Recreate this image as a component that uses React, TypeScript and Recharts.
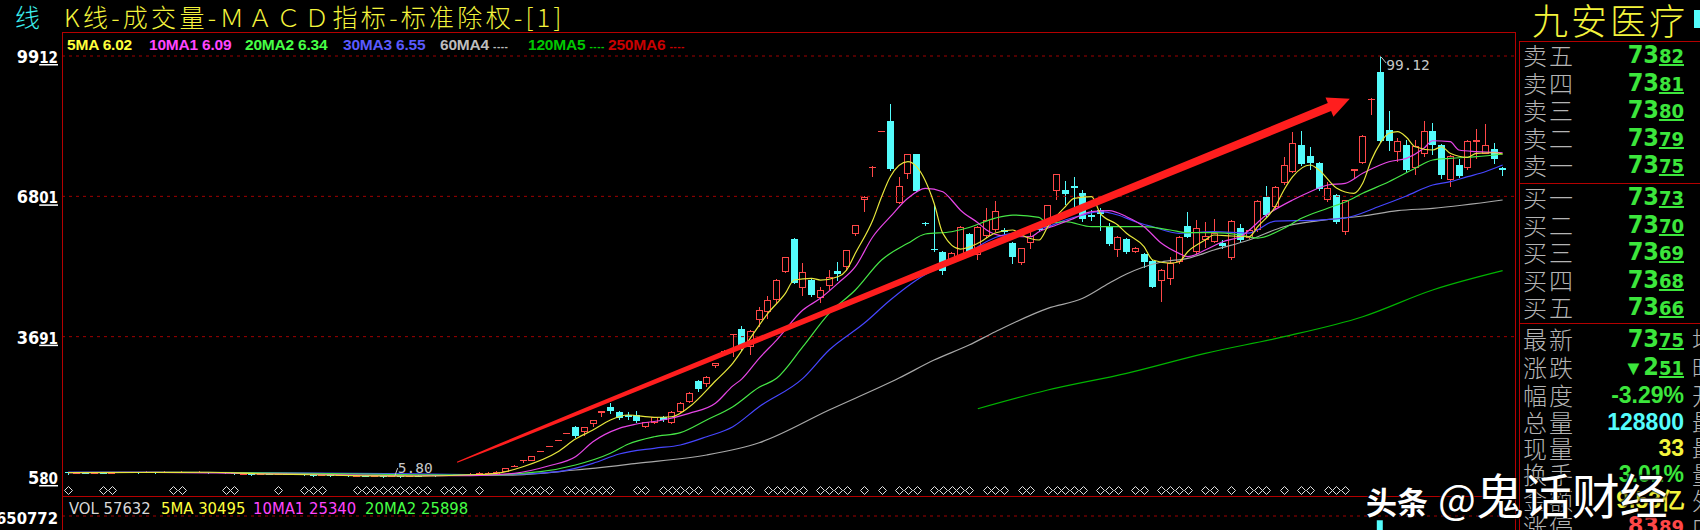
import React from 'react';
import { ComposedChart, Bar, Line, XAxis, YAxis, ReferenceLine, ReferenceDot } from 'recharts';

// ---------- price data (one entry per trading day shown) ----------
const opens = [
  6.80,6.62,6.70,6.66,6.72,6.70,6.78,6.80,6.85,6.80,
  6.86,6.84,6.88,6.85,6.90,6.86,6.92,6.76,6.84,6.66,
  6.45,6.55,6.35,6.50,6.45,6.55,6.42,6.50,6.30,6.15,
  6.25,6.10,6.18,6.05,6.10,5.98,6.05,5.95,6.00,5.96,
  6.08,6.02,6.15,6.10,6.22,6.30,6.42,
  6.55,6.70,6.30,6.97,8.20,9.45,9.40,11.40,12.60,13.90,
  15.50,16.95,15.84,17.50,19.90,21.40,20.20,19.50,19.50,16.95,
  17.80,19.20,17.80,20.10,22.50,27.00,26.40,30.40,33.70,37.40,
  38.50,34.70,40.60,42.40,45.00,51.20,58.60,47.60,49.50,45.40,
  48.10,51.50,52.40,59.60,67.30,74.20,82.40,84.80,66.50,73.00,
  77.40,62.20,56.40,55.70,53.90,54.80,59.70,55.00,59.20,60.50,
  60.60,57.60,53.30,57.60,61.10,61.30,69.30,69.40,70.30,68.80,
  63.80,65.00,61.30,56.10,58.50,55.70,55.20,53.70,49.30,49.80,
  53.50,61.40,55.70,58.30,58.00,57.70,54.30,60.90,58.80,60.50,
  67.80,65.70,70.90,73.50,79.40,77.00,75.50,67.20,68.30,60.00,
  73.70,75.30,89.50,95.60,82.70,77.90,79.40,74.20,77.50,82.60,
  79.40,71.60,75.00,74.20,80.00,77.50,78.60,74.40,
];
const highs = [
  6.90,6.80,6.78,6.80,6.82,6.85,6.88,6.95,6.92,7.10,
  6.95,7.12,6.98,7.10,6.98,7.05,7.00,6.90,6.92,6.75,
  6.60,6.62,6.55,6.58,6.62,6.60,6.55,6.55,6.40,6.30,
  6.30,6.22,6.24,6.15,6.16,6.10,6.10,6.05,6.10,6.12,
  6.15,6.20,6.22,6.28,6.35,6.48,6.60,
  6.80,6.90,7.10,7.90,8.40,9.60,10.50,11.55,12.70,14.00,
  15.65,17.10,16.90,18.50,20.45,22.10,20.35,20.20,20.40,18.10,
  19.10,19.30,20.40,22.40,24.70,27.30,28.10,31.10,33.90,37.60,
  39.30,38.30,43.50,45.90,49.60,54.60,58.70,53.30,49.60,48.00,
  51.70,53.50,56.20,61.70,68.00,74.70,82.60,88.40,72.20,77.50,
  77.50,62.40,66.10,55.80,55.70,61.40,59.90,61.40,65.40,67.00,
  61.00,57.80,56.60,60.55,61.60,66.20,73.00,71.50,72.20,69.40,
  65.00,65.40,62.00,59.20,58.70,56.80,55.40,53.90,52.00,54.60,
  59.20,64.60,62.80,62.40,62.90,58.40,62.80,61.90,60.80,67.20,
  70.20,70.30,76.70,82.30,82.60,78.90,75.70,71.30,68.50,67.30,
  74.10,81.60,89.80,99.12,87.00,80.90,80.50,80.50,84.80,84.20,
  79.60,77.20,76.40,80.50,82.90,84.00,79.80,74.60,
];
const lows = [
  6.55,6.50,6.60,6.60,6.62,6.65,6.70,6.72,6.75,6.76,
  6.78,6.80,6.80,6.78,6.80,6.82,6.72,6.70,6.60,6.40,
  6.38,6.30,6.30,6.40,6.40,6.40,6.35,6.25,6.10,6.10,
  6.05,6.02,6.00,5.95,5.92,5.90,5.88,5.80,5.90,5.92,
  5.98,6.00,6.05,6.08,6.15,6.25,6.38,
  6.45,6.60,6.25,6.90,8.10,9.00,9.30,11.35,12.55,13.85,
  15.45,14.70,14.90,16.95,19.10,19.90,18.70,18.60,18.10,16.60,
  17.60,18.30,17.60,19.90,22.30,24.90,25.80,29.90,33.60,32.40,
  33.90,32.80,39.00,40.80,44.10,51.00,48.80,45.90,45.90,44.40,
  47.30,49.50,51.70,59.20,64.60,72.40,82.40,73.90,66.30,71.80,
  69.20,61.70,55.90,50.80,53.50,54.30,55.50,53.90,58.80,60.00,
  59.70,53.20,52.80,56.30,60.30,61.00,67.30,66.30,65.70,62.60,
  62.80,60.50,57.20,54.60,55.50,55.50,52.40,47.90,44.70,48.40,
  53.00,58.90,55.30,56.50,57.60,56.50,53.90,58.00,58.50,60.20,
  63.70,65.30,70.50,73.20,75.00,74.00,69.40,66.80,62.20,59.50,
  71.80,75.10,86.00,80.10,78.30,75.70,73.70,72.70,76.80,77.40,
  72.00,70.00,72.30,73.80,76.40,77.30,75.30,72.70,
];
const closes = [
  6.62,6.70,6.66,6.72,6.70,6.78,6.80,6.85,6.80,6.86,
  6.84,6.88,6.85,6.90,6.86,6.92,6.76,6.84,6.66,6.45,
  6.55,6.35,6.50,6.45,6.55,6.42,6.50,6.30,6.15,6.25,
  6.10,6.18,6.05,6.10,5.98,6.05,5.95,6.00,5.96,6.08,
  6.02,6.15,6.10,6.22,6.30,6.42,6.55,
  6.70,6.75,6.97,7.72,8.30,9.57,10.45,11.50,12.66,14.00,
  15.60,14.88,16.80,18.40,20.40,20.50,18.87,19.00,18.30,18.05,
  19.00,18.40,20.30,22.30,24.50,25.20,28.00,31.00,33.80,37.60,
  34.70,38.20,42.80,45.00,49.50,54.50,48.90,51.30,46.10,47.20,
  50.10,50.80,56.10,61.60,67.90,74.60,82.55,74.00,70.30,77.40,
  69.30,61.90,56.10,51.50,55.50,61.30,55.70,61.30,62.70,64.80,
  60.20,54.50,56.50,59.20,60.50,66.10,72.90,68.50,69.80,62.90,
  63.40,64.10,57.40,59.10,55.70,56.50,53.50,48.00,51.70,53.30,
  59.10,59.10,60.90,59.20,59.80,57.00,62.60,58.30,60.50,67.00,
  63.90,70.10,75.00,79.90,75.20,75.50,69.60,69.80,62.40,67.20,
  74.00,81.40,89.70,80.30,80.30,80.30,73.80,79.20,82.60,79.40,
  72.70,77.00,72.50,80.30,80.50,79.40,76.26,73.75,
];

// ---------- moving-average lines as [bar, value] ----------
type Pt = [number, number];
const ma5Pts: Pt[] = [[0,6.75],[8,6.8],[16,6.85],[22,6.5],[28,6.3],[34,6.05],[40,6.0],[46,6.3],[49,6.62],[52,8.08],[56,11.4],[58,14.2],[60,16.21],[62,18.43],[64,19.54],[67,19.03],[69,19.16],[71,21.31],[74,27.07],[76,31.06],[78,36.6],[80,42.08],[82,46.52],[83,49.46],[85,49.84],[86,49.46],[88,50.2],[89,51.68],[90,55.38],[92,62.76],[93,67.93],[94,72.37],[96,75.69],[97,74.58],[99,66.47],[100,59.82],[102,56.33],[104,57.6],[106,59.88],[108,60.55],[109,59.44],[111,58.33],[112,61.28],[114,65.71],[115,67.57],[117,67.93],[118,64.25],[120,61.66],[121,59.82],[123,56.85],[124,53.9],[126,53.23],[127,53.52],[128,55.74],[130,58.33],[131,59.44],[133,59.22],[135,59.06],[136,61.28],[138,65.7],[139,69.41],[140,72.37],[142,74.96],[143,73.85],[145,69.86],[147,68.68],[148,70.9],[149,76.07],[150,79.77],[151,81.99],[152,82.34],[153,81.1],[154,79.01],[156,78.28],[157,79.01],[158,77.55],[160,76.66],[161,77.55],[163,77.68],[164,77.4]];
const ma10Pts: Pt[] = [[0,6.75],[10,6.82],[20,6.6],[30,6.35],[40,6.08],[46,6.1],[51,6.62],[55,8.3],[58,10.29],[60,13.62],[63,16.59],[65,17.54],[68,18.43],[71,19.91],[74,22.13],[76,26.0],[77,27.5],[79,32.1],[81,36.16],[84,42.81],[86,45.41],[88,48.73],[90,52.41],[92,59.06],[94,63.5],[96,67.57],[98,69.79],[100,69.04],[101,67.2],[102,64.98],[104,62.17],[105,60.55],[107,59.22],[110,59.06],[111,60.17],[113,61.66],[115,63.14],[117,64.61],[119,64.83],[121,63.5],[123,61.28],[125,57.6],[127,55.38],[128,54.63],[130,56.11],[132,57.96],[134,59.06],[137,63.87],[140,67.2],[142,69.04],[144,70.52],[146,70.9],[148,73.12],[150,74.96],[151,75.69],[153,76.44],[155,78.66],[156,80.34],[158,80.12],[159,78.28],[161,77.91],[164,77.68]];
const ma20Pts: Pt[] = [[0,6.8],[10,6.85],[20,6.75],[30,6.55],[40,6.3],[47,6.2],[54,6.97],[58,8.45],[62,11.05],[64,13.06],[67,14.73],[70,15.62],[73,18.43],[76,21.38],[79,25.68],[81,27.67],[84,34.68],[87,42.08],[90,47.25],[93,53.9],[96,57.6],[98,59.66],[101,60.17],[103,61.1],[106,63.2],[108,63.87],[111,63.36],[112,62.03],[114,62.39],[117,61.28],[120,61.28],[123,61.28],[126,60.55],[128,59.95],[131,59.95],[134,59.44],[136,58.77],[139,60.92],[141,63.14],[144,65.36],[146,66.76],[148,68.68],[151,71.26],[154,74.23],[156,76.07],[158,76.44],[161,76.8],[164,77.4]];
const ma30Pts: Pt[] = [[0,6.9],[20,6.8],[40,6.5],[50,6.3],[56,6.97],[60,8.83],[63,10.89],[67,12.16],[70,12.89],[73,14.73],[76,16.95],[79,21.38],[84,27.67],[87,33.95],[91,39.87],[94,45.03],[97,49.46],[100,52.79],[103,55.45],[104,56.85],[106,58.88],[109,60.17],[112,61.28],[114,62.76],[116,63.87],[118,64.61],[120,63.87],[122,62.39],[124,61.28],[127,59.82],[131,60.17],[135,59.88],[138,62.54],[143,62.76],[146,63.21],[150,65.87],[153,68.1],[156,70.52],[158,71.26],[160,72.37],[162,73.47],[164,74.96]];
const ma60Pts: Pt[] = [[44,6.3],[50,6.2],[58,7.35],[65,8.83],[73,10.67],[79,13.39],[87,20.65],[95,27.74],[99,31.73],[103,35.05],[106,38.0],[112,43.19],[116,45.41],[119,48.73],[121,50.8],[125,53.46],[128,54.27],[131,56.11],[135,58.33],[139,61.28],[143,62.61],[148,63.65],[152,64.83],[156,65.36],[164,67.2]];
const ma120Pts: Pt[] = [[104,20.93],[112,25.08],[121,28.78],[130,33.21],[139,36.9],[148,41.33],[156,47.25],[164,51.53]];

// bars carrying a signal diamond under the chart
const signalBars = [0,4,5,12,13,18,19,24,27,28,29,33,34,35,36,37,38,39,40,41,43,44,45,47,51,52,53,54,55,57,58,59,60,61,62,65,66,68,69,70,71,72,74,75,76,77,78,
  80,81,82,83,84,86,87,88,89,91,93,95,96,97,99,100,101,102,103,105,106,107,109,110,112,113,114,115,116,118,119,120,122,123,125,126,127,128,130,131,133,135,136,137,139,141,142,144,145,146];
const SIGNAL_LEVEL = 2.91;

// axis ticks / annotations
const priceTicks = [5.8, 36.91, 68.01, 99.12];
const priceDomain: [number, number] = [1.588, 104.33];
const highMark: Pt = [150, 99.12];
const lowMark: Pt = [37, 5.8];
const arrowFrom: Pt = [45, 9.49];
const arrowTo: Pt = [146, 89.21];

// volume (only the tallest bar reaches the visible strip)
const volBars: Pt[] = [[150, 628000]];
const volTicks = [650772];
const volDomain: [number, number] = [0, 746790];

// legends / quote panel
const maLegend = [
  { t: '5MA', v: '6.02', c: '#ffff3c', x: 67 },
  { t: '10MA1', v: '6.09', c: '#ff46ff', x: 149 },
  { t: '20MA2', v: '6.34', c: '#46ff46', x: 245 },
  { t: '30MA3', v: '6.55', c: '#5a5aff', x: 343 },
  { t: '60MA4', v: '----', c: '#bdbdbd', x: 440 },
  { t: '120MA5', v: '----', c: '#00c800', x: 528 },
  { t: '250MA6', v: '----', c: '#c80000', x: 608 },
];
const volLegend = [
  { t: 'VOL', v: '57632', c: '#d8d8d8', x: 69 },
  { t: '5MA', v: '30495', c: '#ffff3c', x: 161 },
  { t: '10MA1', v: '25340', c: '#ff46ff', x: 253 },
  { t: '20MA2', v: '25898', c: '#46ff46', x: 365 },
];
const askLabels = ['卖五', '卖四', '卖三', '卖二', '卖一'];
const askPrices = ['73.82', '73.81', '73.80', '73.79', '73.75'];
const bidLabels = ['买一', '买二', '买三', '买四', '买五'];
const bidPrices = ['73.73', '73.70', '73.69', '73.68', '73.66'];
const sideLabels = ['均', '昨', '开', '最', '最', '量', '外', '内'];

const RED = '#ff4848';
const CYAN = '#54fcfc';
const FRAME = '#b40000';
const NARROW = "'Liberation Sans Narrow','DejaVu Sans Condensed',Arial,sans-serif";
const SANS = "'Liberation Sans',Arial,sans-serif";
const CJK = "'Noto Sans CJK SC','Noto Sans',sans-serif";
const MONO = "'DejaVu Sans Mono','Liberation Mono',monospace";

function sparse(pts: Pt[], n: number) {
  const a: (number | null)[] = new Array(n).fill(null);
  pts.forEach(([i, v]) => { a[i] = v; });
  return a;
}
const N = closes.length;
const m5 = sparse(ma5Pts, N), m10 = sparse(ma10Pts, N), m20 = sparse(ma20Pts, N), m30 = sparse(ma30Pts, N), m60 = sparse(ma60Pts, N), m120 = sparse(ma120Pts, N);
const vols = sparse(volBars, N);
const rows = closes.map((c, i) => ({
  i, o: opens[i], h: highs[i], l: lows[i], c,
  range: [lows[i], highs[i]],
  ma5: m5[i], ma10: m10[i], ma20: m20[i], ma30: m30[i], ma60: m60[i], ma120: m120[i],
  sig: signalBars.includes(i) ? SIGNAL_LEVEL : null,
  vol: vols[i],
}));

function Candle(props: any) {
  const { x, y, width, height, payload } = props;
  if (!payload || x == null || y == null) return <g />;
  const { o, h, l, c } = payload;
  const up = c >= o;
  const col = up ? RED : CYAN;
  const span = h - l;
  const k = span > 0 ? height / span : 0;
  const py = (v: number) => y + (h - v) * k;
  const cx = Math.floor(x + width / 2) + 0.5;
  const top = Math.round(py(Math.max(o, c)));
  const bot = Math.round(py(Math.min(o, c)));
  const hi = Math.round(y);
  const lo = Math.round(y + height);
  if (up) {
    return (
      <g shapeRendering="crispEdges">
        <line x1={cx} x2={cx} y1={hi} y2={top} stroke={col} />
        <line x1={cx} x2={cx} y1={bot} y2={lo} stroke={col} />
        {bot - top <= 1
          ? <line x1={cx - 3.5} x2={cx + 3.5} y1={top + 0.5} y2={top + 0.5} stroke={col} />
          : <rect x={cx - 3} y={top + 0.5} width={6} height={bot - top - 1} fill="#000" stroke={col} />}
      </g>
    );
  }
  return (
    <g shapeRendering="crispEdges">
      <line x1={cx} x2={cx} y1={hi} y2={lo + 1} stroke={col} />
      <rect x={cx - 3.5} y={top} width={7} height={Math.max(1, bot - top)} fill={col} />
    </g>
  );
}

function Diamond(p: any) {
  const { cx, cy, payload, index } = p;
  if (!payload || payload.sig == null || cx == null) return <g key={`d${index}`} />;
  const x = Math.round(cx) + 0.5, y = Math.round(cy) + 0.5;
  return <path key={`d${index}`} d={`M${x - 4},${y} L${x},${y - 4} L${x + 4},${y} L${x},${y + 4} Z`} fill="none" stroke="#e0e0e0" strokeWidth={1} />;
}

function PriceTick(p: any) {
  const v: number = p.payload.value;
  const [a, b] = v.toFixed(2).split('.');
  return (
    <text x={58} y={p.y + 7} textAnchor="end" fill="#ffffff" fontFamily={NARROW} fontWeight="bold">
      <tspan fontSize={18}>{a}</tspan>
      <tspan fontSize={15} textDecoration="underline">{b}</tspan>
    </text>
  );
}
function VolTick(p: any) {
  return (
    <text x={58} y={p.y + 8} textAnchor="end" fill="#ffffff" fontFamily={NARROW} fontWeight="bold" fontSize={16.5}>
      {String(p.payload.value)}
    </text>
  );
}

function Arrow(p: any) {
  const { x1, y1, x2, y2 } = p;
  if ([x1, y1, x2, y2].some((v) => v == null || isNaN(v))) return <g />;
  const dx = x2 - x1, dy = y2 - y1;
  const len = Math.hypot(dx, dy);
  const ux = dx / len, uy = dy / len;
  const nx = -uy, ny = ux;
  const sx = x1 - ux * 5, sy = y1 - uy * 5;
  const tx = x2 + ux * 5, ty = y2 + uy * 5;
  const headLen = 22, headHalf = 10.5;
  const bx = tx - ux * headLen, by = ty - uy * headLen;
  const shaft = Math.hypot(bx - sx, by - sy);
  const fr = [0, 0.05, 0.15, 0.3, 0.5, 0.7, 0.85, 1];
  const half = (s: number) => (1 + 7.6 * Math.sqrt(s)) / 2;
  const left = fr.map((s) => [sx + ux * shaft * s + nx * half(s), sy + uy * shaft * s + ny * half(s)]);
  const right = fr.map((s) => [sx + ux * shaft * s - nx * half(s), sy + uy * shaft * s - ny * half(s)]).reverse();
  const pts = [...left, [bx + nx * headHalf, by + ny * headHalf], [tx, ty], [bx - nx * headHalf, by - ny * headHalf], ...right];
  return <polygon points={pts.map((q) => `${q[0].toFixed(1)},${q[1].toFixed(1)}`).join(' ')} fill="#ff1e1e" />;
}

function HighMarkShape(p: any) {
  const { cx, cy } = p;
  return (
    <g>
      <line x1={cx + 1} y1={cy + 1} x2={cx + 6} y2={cy + 7} stroke="#c8c8c8" />
      <text x={cx + 6} y={cy + 14} fill="#c8c8c8" fontFamily={MONO} fontSize={14.5}>99.12</text>
    </g>
  );
}
function LowMarkShape(p: any) {
  const { cx, cy } = p;
  return (
    <g>
      <line x1={cx + 3} y1={cy - 1} x2={cx + 6} y2={cy - 9} stroke="#c8c8c8" />
      <text x={cx + 6} y={cy - 4} fill="#c8c8c8" fontFamily={MONO} fontSize={14.5}>5.80</text>
    </g>
  );
}

const abs = (s: React.CSSProperties): React.CSSProperties => ({ position: 'absolute', ...s });

function PriceValue({ text, color, big = 25, small = 20 }: { text: string; color: string; big?: number; small?: number }) {
  const [a, b] = text.split('.');
  return (
    <span style={{ color, fontFamily: NARROW, fontWeight: 'bold' }}>
      <span style={{ fontSize: big }}>{a}</span>
      <span style={{ fontSize: small, textDecoration: 'underline' }}>{b}</span>
    </span>
  );
}

function QuoteRow({ cy, label, children }: { cy: number; label: string; children: React.ReactNode }) {
  return (
    <>
      <div style={abs({ left: 1523, top: cy - 15, fontSize: 24, lineHeight: '30px', color: '#b4b4b4', fontFamily: CJK, fontWeight: 300, letterSpacing: 2 })}>{label}</div>
      <div style={abs({ right: 16, top: cy - 15, lineHeight: '30px', whiteSpace: 'nowrap' })}>{children}</div>
    </>
  );
}

export default function App() {
  const plotMargin = { top: 32.5, right: 185, bottom: 34, left: 0 };
  const axisPad = { left: 1.73, right: 8 };
  const statRows = [339, 367, 395, 422, 448, 474, 500, 526];
  return (
    <div style={{ position: 'fixed', left: 0, top: 0, width: 1700, height: 530, background: '#000', overflow: 'hidden' }}>
      {/* title bar */}
      <div style={abs({ left: 15, top: 1, fontSize: 25, lineHeight: '30px', color: '#3cf0f0', fontFamily: CJK, fontWeight: 300 })}>线</div>
      <div style={abs({ left: 64, top: 1, fontSize: 25, lineHeight: '30px', color: '#f4f43c', fontFamily: CJK, fontWeight: 300, letterSpacing: 3.3, whiteSpace: 'nowrap' })}>K线-成交量-ＭＡＣＤ指标-标准除权-[1]</div>

      {/* price chart */}
      <div style={abs({ left: 0, top: 0 })}>
        <ComposedChart width={1700} height={530} data={rows} margin={plotMargin}>
          <XAxis dataKey="i" hide padding={axisPad} />
          <YAxis width={62} type="number" domain={priceDomain} allowDataOverflow ticks={priceTicks} interval={0} tick={<PriceTick />} axisLine={false} tickLine={false} />
          {priceTicks.slice(1).map((v) => (
            <ReferenceLine key={v} y={v} stroke="#a00000" strokeDasharray="3 4" />
          ))}
          <Bar dataKey="range" barSize={7} shape={Candle} isAnimationActive={false} />
          <Line dataKey="ma120" type="monotone" stroke="#00b400" strokeWidth={1.2} dot={false} connectNulls isAnimationActive={false} />
          <Line dataKey="ma60" type="monotone" stroke="#a8a8a8" strokeWidth={1.2} dot={false} connectNulls isAnimationActive={false} />
          <Line dataKey="ma30" type="monotone" stroke="#4646ff" strokeWidth={1.2} dot={false} connectNulls isAnimationActive={false} />
          <Line dataKey="ma20" type="monotone" stroke="#46e646" strokeWidth={1.2} dot={false} connectNulls isAnimationActive={false} />
          <Line dataKey="ma10" type="monotone" stroke="#e646e6" strokeWidth={1.2} dot={false} connectNulls isAnimationActive={false} />
          <Line dataKey="ma5" type="monotone" stroke="#e6e63c" strokeWidth={1.2} dot={false} connectNulls isAnimationActive={false} />
          <Line dataKey="sig" stroke="none" dot={Diamond} activeDot={false} isAnimationActive={false} />
          <ReferenceDot x={highMark[0]} y={highMark[1]} r={0} shape={HighMarkShape} ifOverflow="visible" />
          <ReferenceDot x={lowMark[0]} y={lowMark[1]} r={0} shape={LowMarkShape} ifOverflow="visible" />
          <ReferenceLine segment={[{ x: arrowFrom[0], y: arrowFrom[1] }, { x: arrowTo[0], y: arrowTo[1] }]} shape={Arrow} ifOverflow="visible" />
        </ComposedChart>
      </div>

      {/* volume strip (only its top is inside the window) */}
      <div style={abs({ left: 0, top: 0 })}>
        <ComposedChart width={1700} height={640} data={rows} margin={{ top: 498, right: 185, bottom: 2, left: 0 }}>
          <XAxis dataKey="i" hide padding={axisPad} />
          <YAxis width={62} type="number" domain={volDomain} allowDataOverflow ticks={volTicks} interval={0} tick={<VolTick />} axisLine={false} tickLine={false} />
          <ReferenceLine y={volTicks[0]} stroke="#a00000" strokeDasharray="3 4" />
          <Bar dataKey="vol" barSize={6} fill={CYAN} isAnimationActive={false} />
        </ComposedChart>
      </div>

      {/* MA legend */}
      {maLegend.map((m) => (
        <div key={m.t} style={abs({ left: m.x, top: 36, fontSize: 15.5, lineHeight: '17px', color: m.c, fontFamily: SANS, fontWeight: 'bold', whiteSpace: 'nowrap', letterSpacing: -0.2 })}>
          {m.t} {m.v === '----' ? <span style={{ fontSize: 10, letterSpacing: 0.5 }}>{m.v}</span> : m.v}
        </div>
      ))}
      {volLegend.map((m) => (
        <div key={m.t} style={abs({ left: m.x, top: 500, fontSize: 16.5, lineHeight: '18px', color: m.c, fontFamily: NARROW, whiteSpace: 'nowrap' })}>{m.t} {m.v}</div>
      ))}

      {/* frames */}
      <div style={abs({ left: 62, top: 32, width: 1454, height: 1, background: FRAME })} />
      <div style={abs({ left: 62, top: 32, width: 1, height: 498, background: FRAME })} />
      <div style={abs({ left: 1515, top: 32, width: 1, height: 498, background: FRAME })} />
      <div style={abs({ left: 62, top: 496, width: 1454, height: 1, background: FRAME })} />
      <div style={abs({ left: 1519, top: 41, width: 1, height: 489, background: FRAME })} />
      <div style={abs({ left: 1519, top: 41, width: 181, height: 1, background: FRAME })} />
      <div style={abs({ left: 1519, top: 183, width: 181, height: 1, background: FRAME })} />
      <div style={abs({ left: 1519, top: 323, width: 181, height: 1, background: FRAME })} />

      {/* quote panel */}
      <div style={abs({ left: 1532, top: -2, fontSize: 36, lineHeight: '42px', color: '#f4f43c', fontFamily: CJK, fontWeight: 300, letterSpacing: 3, whiteSpace: 'nowrap' })}>九安医疗</div>
      <div style={abs({ left: 1694, top: 10, width: 6, height: 18, background: CYAN })} />
      {askLabels.map((t, k) => (
        <QuoteRow key={t} cy={55 + k * 27.5} label={t}><PriceValue text={askPrices[k]} color="#3ce63c" /></QuoteRow>
      ))}
      {bidLabels.map((t, k) => (
        <QuoteRow key={t} cy={197 + k * 27.5} label={t}><PriceValue text={bidPrices[k]} color="#3ce63c" /></QuoteRow>
      ))}
      <QuoteRow cy={statRows[0]} label="最新"><PriceValue text="73.75" color="#3ce63c" /></QuoteRow>
      <QuoteRow cy={statRows[1]} label="涨跌"><span style={{ color: '#3ce63c', fontSize: 20 }}>▼</span><PriceValue text="2.51" color="#3ce63c" /></QuoteRow>
      <QuoteRow cy={statRows[2]} label="幅度"><span style={{ color: '#3ce63c', fontFamily: SANS, fontWeight: 'bold', fontSize: 23 }}>-3.29%</span></QuoteRow>
      <QuoteRow cy={statRows[3]} label="总量"><span style={{ color: CYAN, fontFamily: SANS, fontWeight: 'bold', fontSize: 23 }}>128800</span></QuoteRow>
      <QuoteRow cy={statRows[4]} label="现量"><span style={{ color: '#f4f43c', fontFamily: SANS, fontWeight: 'bold', fontSize: 23 }}>33</span></QuoteRow>
      <QuoteRow cy={statRows[5]} label="换手"><span style={{ color: '#3ce63c', fontFamily: SANS, fontWeight: 'bold', fontSize: 23 }}>3.01%</span></QuoteRow>
      <QuoteRow cy={statRows[6]} label="金额"><span style={{ color: '#f4f43c', fontFamily: SANS, fontWeight: 'bold', fontSize: 23 }}>9.53亿</span></QuoteRow>
      <QuoteRow cy={statRows[7]} label="涨停"><PriceValue text="83.89" color="#ff4848" /></QuoteRow>
      {sideLabels.map((t, k) => (
        <div key={k} style={abs({ left: 1692, top: statRows[k] - 15, fontSize: 24, lineHeight: '30px', color: '#b4b4b4', fontFamily: CJK, fontWeight: 300 })}>{t}</div>
      ))}

      {/* watermark */}
      <div style={abs({ left: 1366, top: 458, whiteSpace: 'nowrap', color: '#ffffff', fontFamily: CJK, textShadow: '1px 1px 2px #000, -1px -1px 2px #000' })}>
        <span style={{ fontSize: 31, fontWeight: 700 }}>头条</span>
        <span style={{ fontSize: 40, marginLeft: 10 }}>@</span>
        <span style={{ fontSize: 48 }}>鬼话财经</span>
      </div>
    </div>
  );
}
